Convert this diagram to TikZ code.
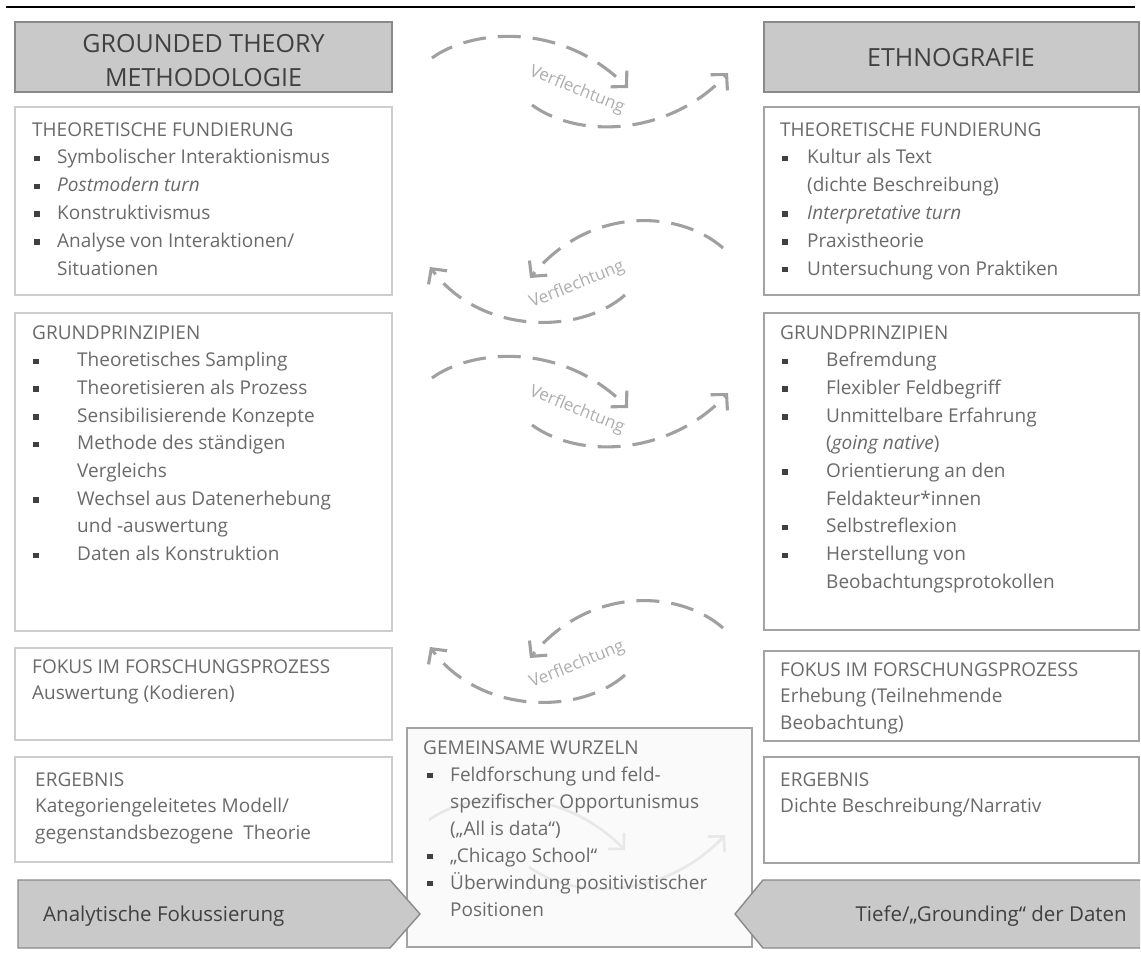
\documentclass[tikz,border=0pt]{standalone}
\usepackage{fontspec}
\setmainfont{Open Sans}
\usetikzlibrary{arrows.meta}
\definecolor{txt}{HTML}{6A6A6A}
\definecolor{dark}{HTML}{404040}
\definecolor{hdrfill}{HTML}{C9C9C9}
\definecolor{hdrdraw}{HTML}{8A8A8A}
\definecolor{lightdraw}{HTML}{CDCDCD}
\definecolor{middraw}{HTML}{A3A3A3}
\definecolor{arccol}{HTML}{A0A0A0}
\definecolor{arctxt}{HTML}{ADADAD}
\definecolor{faintcol}{HTML}{E8E8E8}
\newcommand{\bl}{\textcolor{dark}{\rule[2.6pt]{5.5pt}{5.5pt}}}
\newcommand{\bitem}[3]{\makebox[#1][l]{\hspace*{#2}\bl}#3}
\tikzset{
  hdrbox/.style={draw=hdrdraw, fill=hdrfill, line width=1.4pt, anchor=north west, inner sep=0, outer sep=0},
  lbox/.style={draw=lightdraw, fill=white, line width=1.4pt, anchor=north west, inner sep=0, outer sep=0},
  rbox/.style={draw=middraw, fill=white, line width=1.4pt, anchor=north west, inner sep=0, outer sep=0},
  tb/.style={anchor=base west, inner sep=0, text=txt, font=\fontsize{19}{27.7}\selectfont},
  hdrtxt/.style={anchor=base, inner sep=0, text=dark, font=\fontsize{25}{34}\selectfont},
  vf/.style={draw=arccol, line width=3.1pt, dash pattern=on 23pt off 12pt, -{Straight Barb[length=11pt,width=23pt]}},
  vffaint/.style={draw=faintcol, line width=2.6pt, -{Straight Barb[length=11pt,width=23pt]}},
  vtxt/.style={inner sep=0, text=arctxt, font=\fontsize{17}{20}\selectfont},
  sig/.style={draw=hdrdraw, fill=hdrfill, line width=1.4pt},
  sigtxt/.style={inner sep=0, text=dark, font=\fontsize{20.5}{24}\selectfont}
}
\begin{document}
\begin{tikzpicture}[x=1pt,y=-1pt]
\useasboundingbox (0,0) rectangle (1141,953);
% top rule
\draw[line width=2.5pt, black] (6,7) -- (1135,7);
% headers
\node[hdrbox, minimum width=377pt, minimum height=70pt] (hdrL) at (15,22) {};
\node[hdrtxt] (hdrLt) at (203.5,52) {\parbox[t]{377pt}{\centering GROUNDED THEORY\\METHODOLOGIE}};
\node[hdrbox, minimum width=375pt, minimum height=70pt] (hdrR) at (764,22) {};
\node[hdrtxt] (hdrRt) at (951,66) {ETHNOGRAFIE};
% theoretische fundierung
\node[lbox, minimum width=377pt, minimum height=188pt] (tfL) at (15,107) {};
\node[tb, font=\fontsize{19}{27.8}\selectfont] (tfLt) at (32,136) {\parbox[t]{360pt}{%
THEORETISCHE FUNDIERUNG\\
\bitem{25pt}{2pt}{Symbolischer Interaktionismus}\\
\bitem{25pt}{2pt}{\textit{Postmodern turn}}\\
\bitem{25pt}{2pt}{Konstruktivismus}\\
\bitem{25pt}{2pt}{Analyse von Interaktionen/}\\
\hspace*{25pt}Situationen}};
\node[rbox, minimum width=375pt, minimum height=188pt] (tfR) at (764,107) {};
\node[tb, font=\fontsize{19}{27.8}\selectfont] (tfRt) at (780,136) {\parbox[t]{350pt}{%
THEORETISCHE FUNDIERUNG\\
\bitem{27pt}{2pt}{Kultur als Text}\\
\hspace*{27pt}(dichte Beschreibung)\\
\bitem{27pt}{2pt}{\textit{Interpretative turn}}\\
\bitem{27pt}{2pt}{Praxistheorie}\\
\bitem{27pt}{2pt}{Untersuchung von Praktiken}}};
% grundprinzipien
\node[lbox, minimum width=377pt, minimum height=318pt] (gpL) at (15,313) {};
\node[tb] (gpLt) at (32,339) {\parbox[t]{360pt}{%
GRUNDPRINZIPIEN\\
\bitem{45pt}{1pt}{Theoretisches Sampling}\\
\bitem{45pt}{1pt}{Theoretisieren als Prozess}\\
\bitem{45pt}{1pt}{Sensibilisierende Konzepte}\\
\bitem{45pt}{1pt}{Methode des ständigen}\\
\hspace*{45pt}Vergleichs\\
\bitem{45pt}{1pt}{Wechsel aus Datenerhebung}\\
\hspace*{45pt}und -auswertung\\
\bitem{45pt}{1pt}{Daten als Konstruktion}}};
\node[rbox, minimum width=375pt, minimum height=317pt] (gpR) at (764,313) {};
\node[tb] (gpRt) at (780,339) {\parbox[t]{350pt}{%
GRUNDPRINZIPIEN\\
\bitem{46pt}{2pt}{Befremdung}\\
\bitem{46pt}{2pt}{Flexibler Feldbegriff}\\
\bitem{46pt}{2pt}{Unmittelbare Erfahrung}\\
\hspace*{46pt}(\textit{going native})\\
\bitem{46pt}{2pt}{Orientierung an den}\\
\hspace*{46pt}Feldakteur*innen\\
\bitem{46pt}{2pt}{Selbstreflexion}\\
\bitem{46pt}{2pt}{Herstellung von}\\
\hspace*{46pt}Beobachtungsprotokollen}};
% fokus
\node[lbox, minimum width=377pt, minimum height=92pt] (fkL) at (15,648) {};
\node[tb, font=\fontsize{19}{26.5}\selectfont] (fkLt) at (32,673) {\parbox[t]{360pt}{%
FOKUS IM FORSCHUNGSPROZESS\\
Auswertung (Kodieren)}};
\node[rbox, minimum width=375pt, minimum height=90pt] (fkR) at (764,651) {};
\node[tb, font=\fontsize{19}{26.5}\selectfont] (fkRt) at (780,676) {\parbox[t]{350pt}{%
FOKUS IM FORSCHUNGSPROZESS\\
Erhebung (Teilnehmende\\
Beobachtung)}};
% ergebnis
\node[lbox, minimum width=377pt, minimum height=105pt] (erL) at (15,757) {};
\node[tb, font=\fontsize{19}{26.5}\selectfont] (erLt) at (35,786) {\parbox[t]{350pt}{%
ERGEBNIS\\
Kategoriengeleitetes Modell/\\
gegenstandsbezogene\ \ Theorie}};
\node[rbox, minimum width=375pt, minimum height=106pt] (erR) at (764,757) {};
\node[tb, font=\fontsize{19}{26.5}\selectfont] (erRt) at (780,786) {\parbox[t]{350pt}{%
ERGEBNIS\\
Dichte Beschreibung/Narrativ}};
% gemeinsame wurzeln
\node[rbox, fill=white!98!black, minimum width=345pt, minimum height=219pt] (gw) at (407,728) {};
\begin{scope}[shift={(-3,762)}]
\draw[vffaint] (432,58) .. controls (470,30) and (560,20) .. (628,88);
\draw[vffaint] (532,105) .. controls (580,140) and (670,135) .. (728,73);
\end{scope}
\node[tb, font=\fontsize{19}{27}\selectfont] (gwt) at (423,754) {\parbox[t]{330pt}{%
GEMEINSAME WURZELN\\
\bitem{27pt}{4pt}{Feldforschung und feld-}\\
\hspace*{27pt}spezifischer Opportunismus\\
\hspace*{27pt}(„All is data“)\\
\bitem{27pt}{4pt}{„Chicago School“}\\
\bitem{27pt}{4pt}{Überwindung positivistischer}\\
\hspace*{27pt}Positionen}};
% Verflechtung pairs
\draw[vf] (432,58) .. controls (470,30) and (560,20) .. (628,88);
\draw[vf] (532,105) .. controls (580,140) and (670,135) .. (728,73);
\node[vtxt, rotate=-22] (v1) at (577,90) {Verflechtung};
\draw[vf] (723,248) .. controls (680,210) and (590,205) .. (530,278);
\draw[vf] (625,295) .. controls (580,335) and (480,335) .. (430,267);
\node[vtxt, rotate=22] (v2) at (577,285) {Verflechtung};
\begin{scope}[shift={(0,320)}]
\draw[vf] (432,58) .. controls (470,30) and (560,20) .. (628,88);
\draw[vf] (532,105) .. controls (580,140) and (670,135) .. (728,73);
\node[vtxt, rotate=-22] (v3) at (577,90) {Verflechtung};
\end{scope}
\begin{scope}[shift={(0,380)}]
\draw[vf] (723,248) .. controls (680,210) and (590,205) .. (530,278);
\draw[vf] (625,295) .. controls (580,335) and (480,335) .. (430,267);
\node[vtxt, rotate=22] (v4) at (577,285) {Verflechtung};
\end{scope}
% bottom arrows
\draw[sig] (18,880) -- (390,880) -- (420,914) -- (390,948) -- (18,948) -- cycle;
\node[sigtxt, anchor=base west] (afk) at (43,921) {Analytische Fokussierung};
\draw[sig] (1140,880) -- (763,880) -- (735,914) -- (763,948) -- (1140,948);
\node[sigtxt, anchor=base east] (tgd) at (1127,921) {Tiefe/„Grounding“ der Daten};
\end{tikzpicture}
\end{document}
